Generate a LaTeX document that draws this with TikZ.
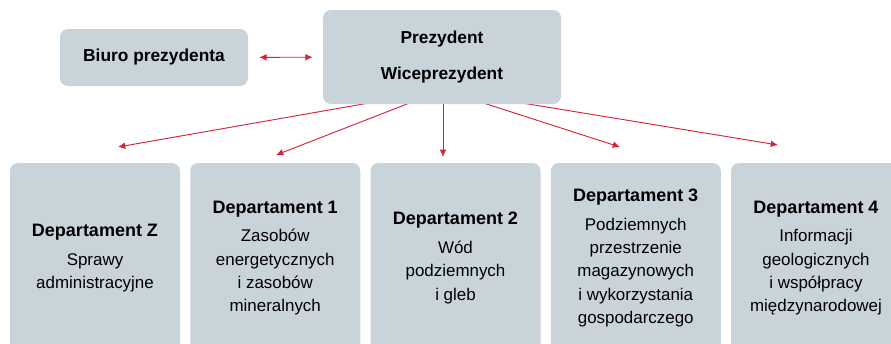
\documentclass[tikz,border=0pt]{standalone}
\usepackage{fontspec}
\setmainfont{Liberation Sans}
\usepackage{tikz}
\usetikzlibrary{positioning,arrows.meta}
\definecolor{boxgray}{RGB}{201,211,218}
\definecolor{linkred}{RGB}{214,35,60}
\tikzset{
  box/.style={shape=rectangle,fill=boxgray,rounded corners=6pt,
    align=center,inner sep=0pt},
  topbox/.style={box,font=\fontsize{13}{16}\selectfont\bfseries},
  dept/.style={box,minimum width=127.5pt,minimum height=142.5pt,
    font=\fontsize{12.7}{17.5}\selectfont},
  link/.style={draw=linkred,line width=0.7pt,->,
    >={Latex[length=5.5pt,width=5pt]}}
}
\newcommand{\depthead}[1]{{\fontsize{13.5}{17.5}\selectfont\bfseries #1}\\[4pt]}

\begin{document}
\begin{tikzpicture}[x=0.75pt,y=-0.75pt]
    \useasboundingbox (0,0) rectangle (891,343);
    \clip (0,0) rectangle (891,343);
    \coordinate (hub) at (443,90);
    \coordinate (tZ) at (118,147);
    \coordinate (t1) at (276,155);
    \coordinate (t2) at (443,157);
    \coordinate (t3) at (620,147);
    \coordinate (t4) at (778,145);
    \foreach \t in {tZ,t1,t2,t3,t4}
      \draw [link] (hub) -- (\t);
    \node (biuro) [topbox,minimum width=141pt,minimum height=42.75pt] at (154,57.5) {Biuro prezydenta};
    \node (prez) [topbox,minimum width=178.5pt,minimum height=70.5pt] at (442,57) {Prezydent\\[11pt]Wiceprezydent};
    \draw [link,<->,shorten <=8.25pt,shorten >=7.5pt] (biuro) -- (prez);
    \node (depZ) [dept] at (95,258) {\depthead{Departament Z}Sprawy\\administracyjne};
    \node (dep1) [dept] at (275.25,258) {\depthead{Departament 1}Zasobów\\energetycznych\\i zasobów\\mineralnych};
    \node (dep2) [dept] at (455.5,258) {\depthead{Departament 2}Wód\\podziemnych\\i gleb};
    \node (dep3) [dept] at (635.75,258) {\depthead{Departament 3}Podziemnych\\przestrzenie\\magazynowych\\i wykorzystania\\gospodarczego};
    \node (dep4) [dept] at (816,258) {\depthead{Departament 4}Informacji\\geologicznych\\i współpracy\\międzynarodowej};
  \end{tikzpicture}
\end{document}
